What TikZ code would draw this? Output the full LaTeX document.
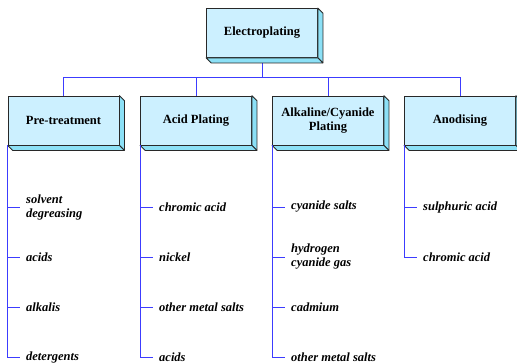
\documentclass[tikz,border=0pt]{standalone}
\usepackage{fontspec}
\setmainfont{Liberation Serif}
\usetikzlibrary{positioning}

\definecolor{boxFront}{RGB}{204,240,255}
\definecolor{boxSide}{RGB}{140,224,246}
\definecolor{linkBlue}{RGB}{60,60,255}
\definecolor{edgeGrey}{RGB}{40,40,40}

\begin{document}
\begin{tikzpicture}[x=1pt,y=-1pt,%%
  boxStyle/.style={draw=edgeGrey,line width=0.8pt,fill=boxFront,
    minimum width=111pt,minimum height=49pt,inner sep=0pt,align=center,
    font=\fontsize{12.5}{14}\selectfont\bfseries},%%
  sideStyle/.style={draw=edgeGrey,line width=0.8pt,fill=boxSide,line join=round},%%
  leafStyle/.style={anchor=west,inner sep=0pt,align=left,
    font=\fontsize{12.5}{14}\selectfont\bfseries\itshape},%%
  linkStyle/.style={-,draw=linkBlue,line width=0.8pt}
]
%%
\useasboundingbox (0,0) rectangle (517,364);
\pgfmathsetmacro{\depth}{5}
\pgfmathsetmacro{\busY}{77}
\pgfmathsetmacro{\leafGap}{18}
%%
%% The links are drawn first, the boxes sit on top of them.
%%
\coordinate (bus) at (0,\busY);
\coordinate (topC) at (262,33);
\draw[linkStyle] (262,58) -- (262,\busY);
%%
%% The boxes.
%%
\node[boxStyle] (top) at (topC) {Electroplating};
\node[boxStyle] (pre) at (63.5,120.5) {Pre-treatment};
\node[boxStyle] (acid) at (196,120.5) {Acid Plating};
\node[boxStyle] (alk) at (328,120.5) {Alkaline/Cyanide\\Plating};
\node[boxStyle] (ano) at (460,120.5) {Anodising};
%%
%% Links from the top box to the four groups.
%%
\foreach \grp in {pre,acid,alk,ano}{
  \draw[linkStyle] (top.south) -- (top.south |- bus) -| (\grp.north);
}
%%
%% The raised sides of each box.
%%
\foreach \bx in {top,pre,acid,alk,ano}{
  \draw[sideStyle] (\bx.north east) -- ([shift={(\depth pt,-\depth pt)}]\bx.north east)
    -- ([shift={(\depth pt,-\depth pt)}]\bx.south east) -- (\bx.south east) -- cycle;
  \draw[sideStyle] (\bx.south west) -- (\bx.south east)
    -- ([shift={(\depth pt,-\depth pt)}]\bx.south east)
    -- ([shift={(\depth pt,-\depth pt)}]\bx.south west) -- cycle;
}
%%
%% The leaves under each group.
%%
\node[leafStyle] (pre1) at (8+\leafGap,207) {solvent\\degreasing};
\node[leafStyle] (pre2) at (8+\leafGap,257) {acids};
\node[leafStyle] (pre3) at (8+\leafGap,307) {alkalis};
\node[leafStyle] (pre4) at (8+\leafGap,357) {detergents};
%%
\node[leafStyle] (acid1) at (141+\leafGap,207) {chromic acid};
\node[leafStyle] (acid2) at (141+\leafGap,257) {nickel};
\node[leafStyle] (acid3) at (141+\leafGap,307) {other metal salts};
\node[leafStyle] (acid4) at (141+\leafGap,357) {acids};
%%
\node[leafStyle] (alk1) at (273+\leafGap,207) {cyanide salts};
\node[leafStyle] (alk2) at (273+\leafGap,257) {hydrogen\\cyanide gas};
\node[leafStyle] (alk3) at (273+\leafGap,307) {cadmium};
\node[leafStyle] (alk4) at (273+\leafGap,357) {other metal salts};
%%
\node[leafStyle] (ano1) at (405+\leafGap,207) {sulphuric acid};
\node[leafStyle] (ano2) at (405+\leafGap,257) {chromic acid};
%%
\foreach \grp/\num in {pre/4,acid/4,alk/4,ano/2}{
  \foreach \k in {1,...,\num}{
    \draw[linkStyle] (\grp.south west) |- ([xshift=-6pt]\grp\k.west);
  }
}
\end{tikzpicture}
\end{document}
